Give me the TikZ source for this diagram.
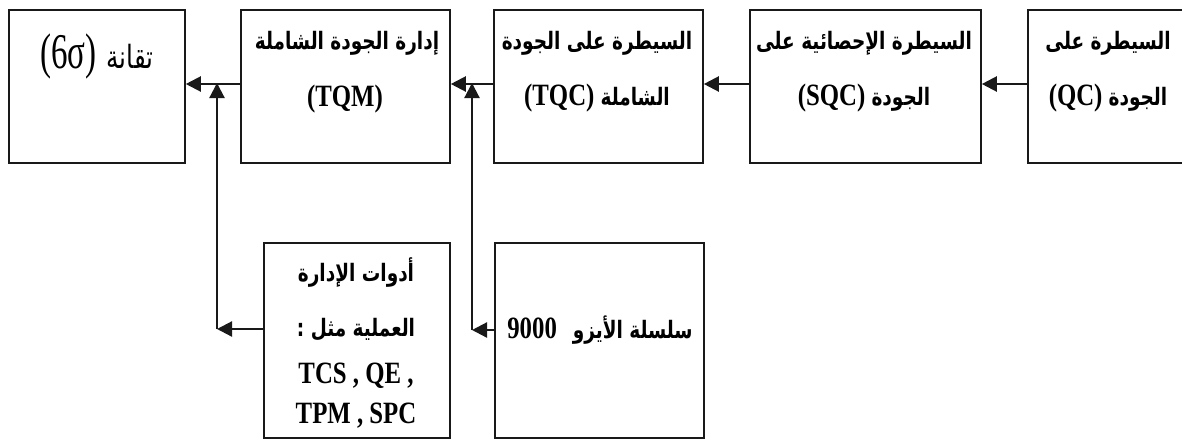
\documentclass[tikz,border=0pt]{standalone}
\usepackage{fontspec}
\usetikzlibrary{arrows.meta}
\TeXXeTstate=1
\setmainfont{Liberation Serif}[FakeStretch=0.8]
\newfontfamily\arabicfont[Script=Arabic,FakeStretch=0.77]{DejaVu Sans}
\newfontfamily\sigmafont[FakeStretch=0.66]{Liberation Serif}
% Arabic runs, set right to left
\newcommand\arb[1]{{\arabicfont\bfseries\fontsize{24}{28}\selectfont\beginR #1\endR}}
\newcommand\arr[1]{{\arabicfont\fontsize{32}{36}\selectfont\beginR #1\endR}}

\begin{document}
\begin{tikzpicture}[x=1pt,y=-1pt,
  box/.style={draw=black!90,line width=1.8pt,anchor=north west,inner sep=0pt},
  lbl/.style={inner sep=0pt,font=\fontsize{31}{34}\selectfont\bfseries},
  big/.style={inner sep=0pt,font=\sigmafont\fontsize{50}{54}\selectfont},
  arw/.style={-{Triangle[length=15pt,width=15pt]},line width=2.2pt,draw=black!90}]
\useasboundingbox (0,0) rectangle (1182,440);

% top row of stages
\node[box,minimum width=176pt,minimum height=153pt] (b1) at (8,9) {};
\node[box,minimum width=209pt,minimum height=153pt] (b2) at (240,9) {};
\node[box,minimum width=209pt,minimum height=153pt] (b3) at (493,9) {};
\node[box,minimum width=231pt,minimum height=153pt] (b4) at (749,9) {};
\node[box,minimum width=180pt,minimum height=153pt] (b5) at (1027,9) {};

% lower row of inputs
\node[box,minimum width=186pt,minimum height=195pt] (b6) at (263,242) {};
\node[box,minimum width=209pt,minimum height=195pt] (b7) at (494,242) {};

% labels
\node[big] (t1) at (97,56) {(6σ)\hspace{10pt}\arr{تقانة}};
\node[lbl] (t2a) at (347,43) {\arb{إدارة الجودة الشاملة}};
\node[lbl] (t2b) at (345,99) {(TQM)};
\node[lbl] (t3a) at (597,43) {\arb{السيطرة على الجودة}};
\node[lbl] (t3b) at (597,98) {(TQC) \arb{الشاملة}};
\node[lbl] (t4a) at (864,43) {\arb{السيطرة الإحصائية على}};
\node[lbl] (t4b) at (864,98) {(SQC) \arb{الجودة}};
\node[lbl] (t5a) at (1108,43) {\arb{السيطرة على}};
\node[lbl] (t5b) at (1108,98) {(QC) \arb{الجودة}};
\node[lbl] (t6a) at (356,273) {\arb{أدوات الإدارة}};
\node[lbl] (t6b) at (356,330) {\arb{العملية مثل :}};
\node[lbl] (t6c) at (356,376) {TCS , QE ,};
\node[lbl] (t6d) at (356,416) {TPM , SPC};
\node[lbl] (t7) at (600,330) {9000\hspace{16pt}\arb{سلسلة الأيزو}};

% junction points of the feeder lines
\coordinate (j1) at (217,84);
\coordinate (k1) at (217,329);
\coordinate (j2) at (472,84);
\coordinate (k2) at (472,330);

% flow between stages
\draw[arw] (b5.west |- j1) -- (b4.east |- j1);
\draw[arw] (b4.west |- j1) -- (b3.east |- j1);
\draw[arw] (b3.west |- j1) -- (b2.east |- j1);
\draw[arw] (b2.west |- j1) -- (b1.east |- j1);

% feeders from the lower boxes
\draw[arw] (b6.west |- k1) -- (k1);
\draw[arw] (k1) -- ([yshift=1pt]j1);
\draw[arw] (b7.west |- k2) -- (k2);
\draw[arw] (k2) -- ([yshift=1pt]j2);
\end{tikzpicture}
\end{document}
